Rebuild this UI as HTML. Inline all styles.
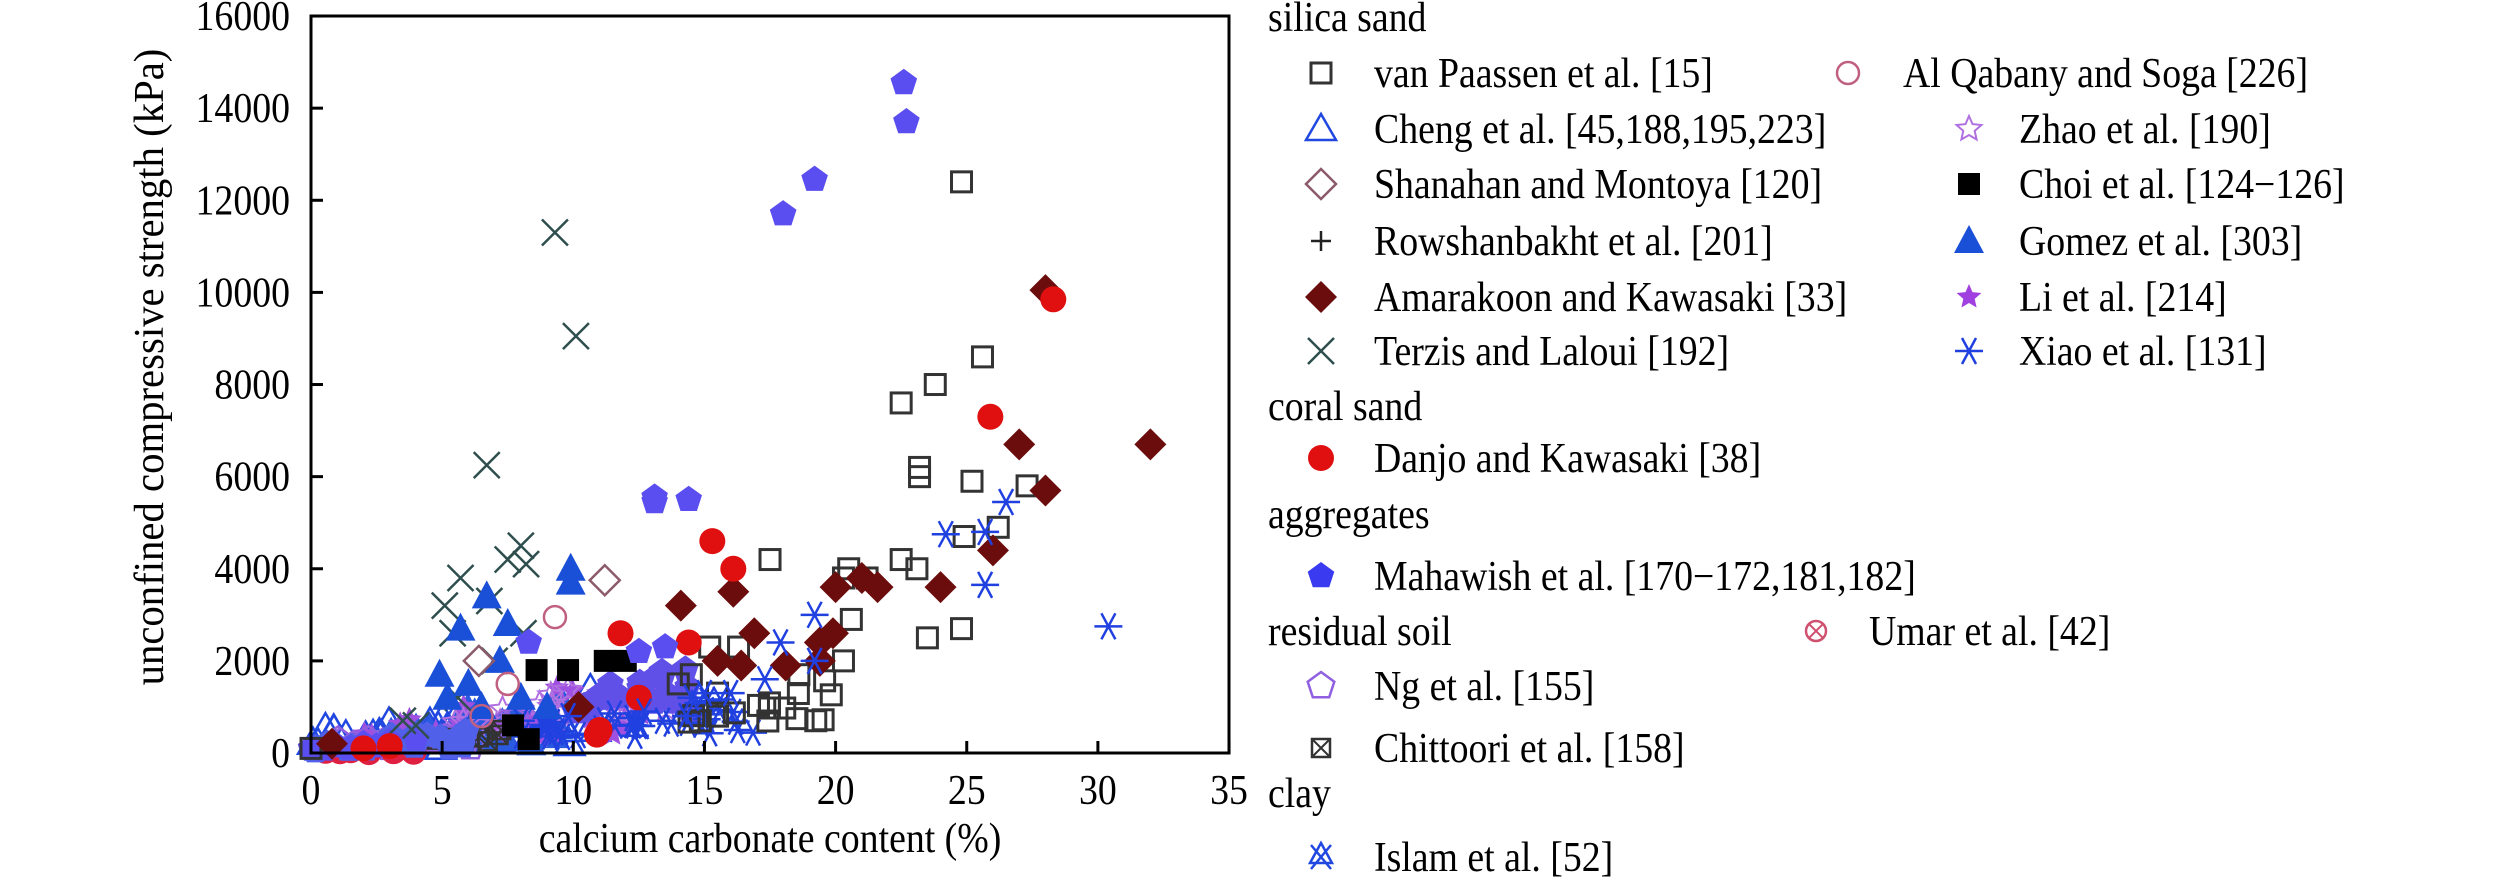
<!DOCTYPE html>
<html><head><meta charset="utf-8"><style>
html,body{margin:0;padding:0;background:#fff;}
body{width:2520px;height:877px;overflow:hidden;position:relative;}
svg text{font-family:"Liberation Serif",serif;}
</style></head><body>
<svg id="s" width="2520" height="877" xmlns="http://www.w3.org/2000/svg"></svg>
<script>
const s=document.getElementById('s');
let h='';
const X=x=>311+x*26.23, Y=y=>753-y*0.04606;
const K=1.15;
function m(type,px,py,c){
 const k=K;
 switch(type){
 case 'sq':return `<rect x="${px-10}" y="${py-10}" width="20" height="20" fill="none" stroke="${c}" stroke-width="3"/>`;
 case 'fsq':return `<rect x="${px-11}" y="${py-11}" width="22" height="22" fill="${c}"/>`;
 case 'ci':return `<circle cx="${px}" cy="${py}" r="11" fill="none" stroke="${c}" stroke-width="2.5"/>`;
 case 'fci':return `<circle cx="${px}" cy="${py}" r="13" fill="${c}"/>`;
 case 'tri':return `<polygon points="${px},${py-15} ${px-15},${py+11} ${px+15},${py+11}" fill="none" stroke="${c}" stroke-width="2.5"/>`;
 case 'ftri':return `<polygon points="${px},${py-16} ${px-15},${py+12} ${px+15},${py+12}" fill="${c}"/>`;
 case 'dia':return `<polygon points="${px},${py-15} ${px+15},${py} ${px},${py+15} ${px-15},${py}" fill="none" stroke="${c}" stroke-width="2.5"/>`;
 case 'fdia':return `<polygon points="${px},${py-16} ${px+16},${py} ${px},${py+16} ${px-16},${py}" fill="${c}"/>`;
 case 'x':return `<path d="M${px-13},${py-13}L${px+13},${py+13}M${px+13},${py-13}L${px-13},${py+13}" stroke="${c}" stroke-width="2.5"/>`;
 case 'plus':return `<path d="M${px-10},${py}L${px+10},${py}M${px},${py-10}L${px},${py+10}" stroke="${c}" stroke-width="2.5"/>`;
 case 'ast':return `<path d="M${px-14},${py}L${px+14},${py}M${px-7},${py-13}L${px+7},${py+13}M${px+7},${py-13}L${px-7},${py+13}" stroke="${c}" stroke-width="2.5"/>`;
 case 'pent':case 'fpent':{let p=[];for(let i=0;i<5;i++){const a=-Math.PI/2+i*2*Math.PI/5;p.push((px+14*Math.cos(a)).toFixed(1)+','+(py+14*Math.sin(a)).toFixed(1));}
   return type=='pent'?`<polygon points="${p.join(' ')}" fill="none" stroke="${c}" stroke-width="2.5"/>`:`<polygon points="${p.join(' ')}" fill="${c}"/>`;}
 case 'star':case 'fstar':{let p=[];for(let i=0;i<10;i++){const a=-Math.PI/2+i*Math.PI/5,rr=i%2?6:13;p.push((px+rr*Math.cos(a)).toFixed(1)+','+(py+rr*Math.sin(a)).toFixed(1));}
   return type=='star'?`<polygon points="${p.join(' ')}" fill="none" stroke="${c}" stroke-width="2"/>`:`<polygon points="${p.join(' ')}" fill="${c}"/>`;}
 case 'cx':return `<circle cx="${px}" cy="${py}" r="10" fill="none" stroke="${c}" stroke-width="2.5"/><path d="M${px-7},${py-7}L${px+7},${py+7}M${px+7},${py-7}L${px-7},${py+7}" stroke="${c}" stroke-width="2"/>`;
 case 'sqx':return `<rect x="${px-9}" y="${py-9}" width="18" height="18" fill="none" stroke="${c}" stroke-width="2.5"/><path d="M${px-9},${py-9}L${px+9},${py+9}M${px+9},${py-9}L${px-9},${py+9}" stroke="${c}" stroke-width="2"/>`;
 case 'isl':return `<path d="M${px-10},${py-12}L${px+10},${py+12}M${px+10},${py-12}L${px-10},${py+12}M${px},${py-14}L${px-11},${py+6}L${px+11},${py+6}Z" stroke="${c}" stroke-width="2.5" fill="none"/>`;
 }
}
function pts(type,c,arr){for(const [x,y] of arr)h+=m(type,X(x),Y(y),c);}
let seed=7;const rnd=()=>{seed=(seed*9301+49297)%233280;return seed/233280;};
function cloud(type,c,n,x0,x1,y0,y1){let a=[];for(let i=0;i<n;i++){const x=x0+rnd()*(x1-x0);const t=(x-x0)/(x1-x0);a.push([x,y0+(y1-y0)*(0.3*rnd()+0.7*t*rnd())]);}pts(type,c,a);}
cloud('tri','#2048e0',35,0,11,50,1600);
cloud('ftri','#2a5ae0',40,3,9.5,100,1600);
cloud('fstar','#a050e0',40,2,13,50,2000);
cloud('star','#b070e0',20,5,14,500,2200);
cloud('pent','#9060e0',15,1,8,50,800);
cloud('fpent','#6050e8',25,10,14.5,800,2300);
cloud('ast','#2040e0',35,8,17,300,1500);
cloud('sq','#333',15,14,20,500,1800);
cloud('sqx','#333',8,3,9,50,800);
cloud('fci','#e02040',10,0.5,4,0,200);
cloud('fpent','#5060e8',25,0,6,0,600);
pts('fpent','#5b4ef0',[[0,100],[0.5,80],[1,150],[1.5,100],[2,200],[3,250],[4,300],[2.5,150]]);
pts('sq','#333',[[24.8,12400],[25.6,8600],[23.8,8000],[22.5,7600],[23.2,6200],[23.2,6000],[25.2,5900],[27.3,5800],[26.2,4900],[24.9,4700],[17.5,4200],[22.5,4200],[20.5,4000],[23.1,4000],[20.3,3800],[21.2,3800],[20.6,2900],[24.8,2700],[23.5,2500],[20.3,2000],[18.6,1700],[15.2,2300],[16.3,2300],[15.5,1300],[15.5,800],[14.5,1700],[14,1500],[0,100]]);
pts('x','#2f4f4f',[[9.3,11300],[10.1,9050],[6.7,6250],[8,4500],[7.5,4200],[8.2,4100],[5.7,3800],[5.1,3200],[6.8,3300],[5.4,2600],[8.1,2600],[7,2000],[4,600],[3.5,700],[5.6,1200]]);
pts('fdia','#6b0d0d',[[28,10050],[27,6700],[32,6700],[28,5700],[26,4400],[24,3600],[21,3800],[21.6,3600],[20,3600],[16.1,3500],[14.1,3200],[16.9,2600],[19.9,2600],[19.4,2400],[15.5,2000],[16.4,1900],[18.1,1900],[19.4,2000],[10.2,1000],[0.8,200]]);
pts('fci','#e01010',[[28.3,9850],[25.9,7300],[15.3,4600],[16.1,4000],[11.8,2600],[14.4,2400],[12.5,1200],[11,500],[10.9,400],[2,100],[3,150]]);
pts('ast','#2040e0',[[30.4,2750],[26.5,5450],[25.7,4800],[24.2,4750],[25.7,3650],[19.2,3000],[17.9,2400],[19.2,2000],[17.3,1600],[16,1300],[15,1300],[14.5,1200],[14.3,800],[13.4,700],[12.7,900],[12.3,600],[9.8,800],[9,600],[8,700]]);
pts('ftri','#1a4fd8',[[9.9,4000],[9.9,3700],[6.7,3400],[7.5,2800],[5.7,2700],[4.9,1700],[7.2,2000],[5.2,1200],[9,1000],[8,1200],[6,1500],[6.5,1000]]);
pts('dia','#8b5a6b',[[11.2,3750],[6.4,2000]]);
pts('ci','#c06080',[[9.3,2950],[7.5,1500],[6.5,800]]);
pts('fsq','#000',[[11.2,2000],[8.3,300],[7.7,600],[12,2000],[9.8,1800],[8.6,1800]]);
pts('fpent','#5b4ef0',[[22.6,14550],[22.7,13700],[19.2,12450],[18,11700],[13.1,5550],[13.1,5450],[14.4,5500],[8.3,2400],[13.5,2300],[12.5,2200]]);
h+=`<rect x="311" y="16" width="918" height="737" fill="none" stroke="#000" stroke-width="3"/>`;
const SX=0.9;
const TXT=(x,y,t,anchor,fs)=>`<text transform="translate(${x},${y}) scale(${SX},1)" font-size="${fs||42}" text-anchor="${anchor||'start'}">${t}</text>`;
for(let v=0;v<=35;v+=5){const x=X(v);h+=`<line x1="${x}" y1="753" x2="${x}" y2="741" stroke="#000" stroke-width="3"/>`+TXT(x,804,v,'middle');}
for(let v=0;v<=16000;v+=2000){const y=Y(v);h+=`<line x1="311" y1="${y}" x2="323" y2="${y}" stroke="#000" stroke-width="3"/>`+TXT(290,y+14,v,'end');}
h+=TXT(770,852,'calcium carbonate content (%)','middle');
h+=`<text transform="translate(163,367) rotate(-90) scale(0.97,1)" font-size="42" text-anchor="middle">unconfined compressive strength (kPa)</text>`;
const T=(x,y,t)=>{h+=TXT(x,y+14,t);};
const L=(type,c,mx,tx,y,t)=>{h+=m(type,mx,y,c);T(tx,y,t);};
T(1268,17,'silica sand');
L('sq','#333',1321,1374,73,'van Paassen et al. [15]');
L('ci','#c06080',1848,1903,73,'Al Qabany and Soga [226]');
L('tri','#2048e0',1321,1374,129,'Cheng et al. [45,188,195,223]');
L('star','#b070e0',1969,2019,129,'Zhao et al. [190]');
L('dia','#8b5a6b',1321,1374,184,'Shanahan and Montoya [120]');
L('fsq','#000',1969,2019,184,'Choi et al. [124−126]');
L('plus','#222',1321,1374,241,'Rowshanbakht et al. [201]');
L('ftri','#1a4fd8',1969,2019,241,'Gomez et al. [303]');
L('fdia','#6b0d0d',1321,1374,297,'Amarakoon and Kawasaki [33]');
L('fstar','#a040e0',1969,2019,297,'Li et al. [214]');
L('x','#2f4f4f',1321,1374,351,'Terzis and Laloui [192]');
L('ast','#2040e0',1969,2019,351,'Xiao et al. [131]');
T(1268,406,'coral sand');
L('fci','#e01010',1321,1374,458,'Danjo and Kawasaki [38]');
T(1268,514,'aggregates');
L('fpent','#3a3af0',1321,1374,576,'Mahawish et al. [170−172,181,182]');
T(1268,631,'residual soil');
L('cx','#d05070',1816,1869,631,'Umar et al. [42]');
L('pent','#9060e0',1321,1374,686,'Ng et al. [155]');
L('sqx','#333',1321,1374,748,'Chittoori et al. [158]');
T(1268,793,'clay');
L('isl','#2048e0',1321,1374,857,'Islam et al. [52]');
s.innerHTML=h;
</script>
</body></html>
